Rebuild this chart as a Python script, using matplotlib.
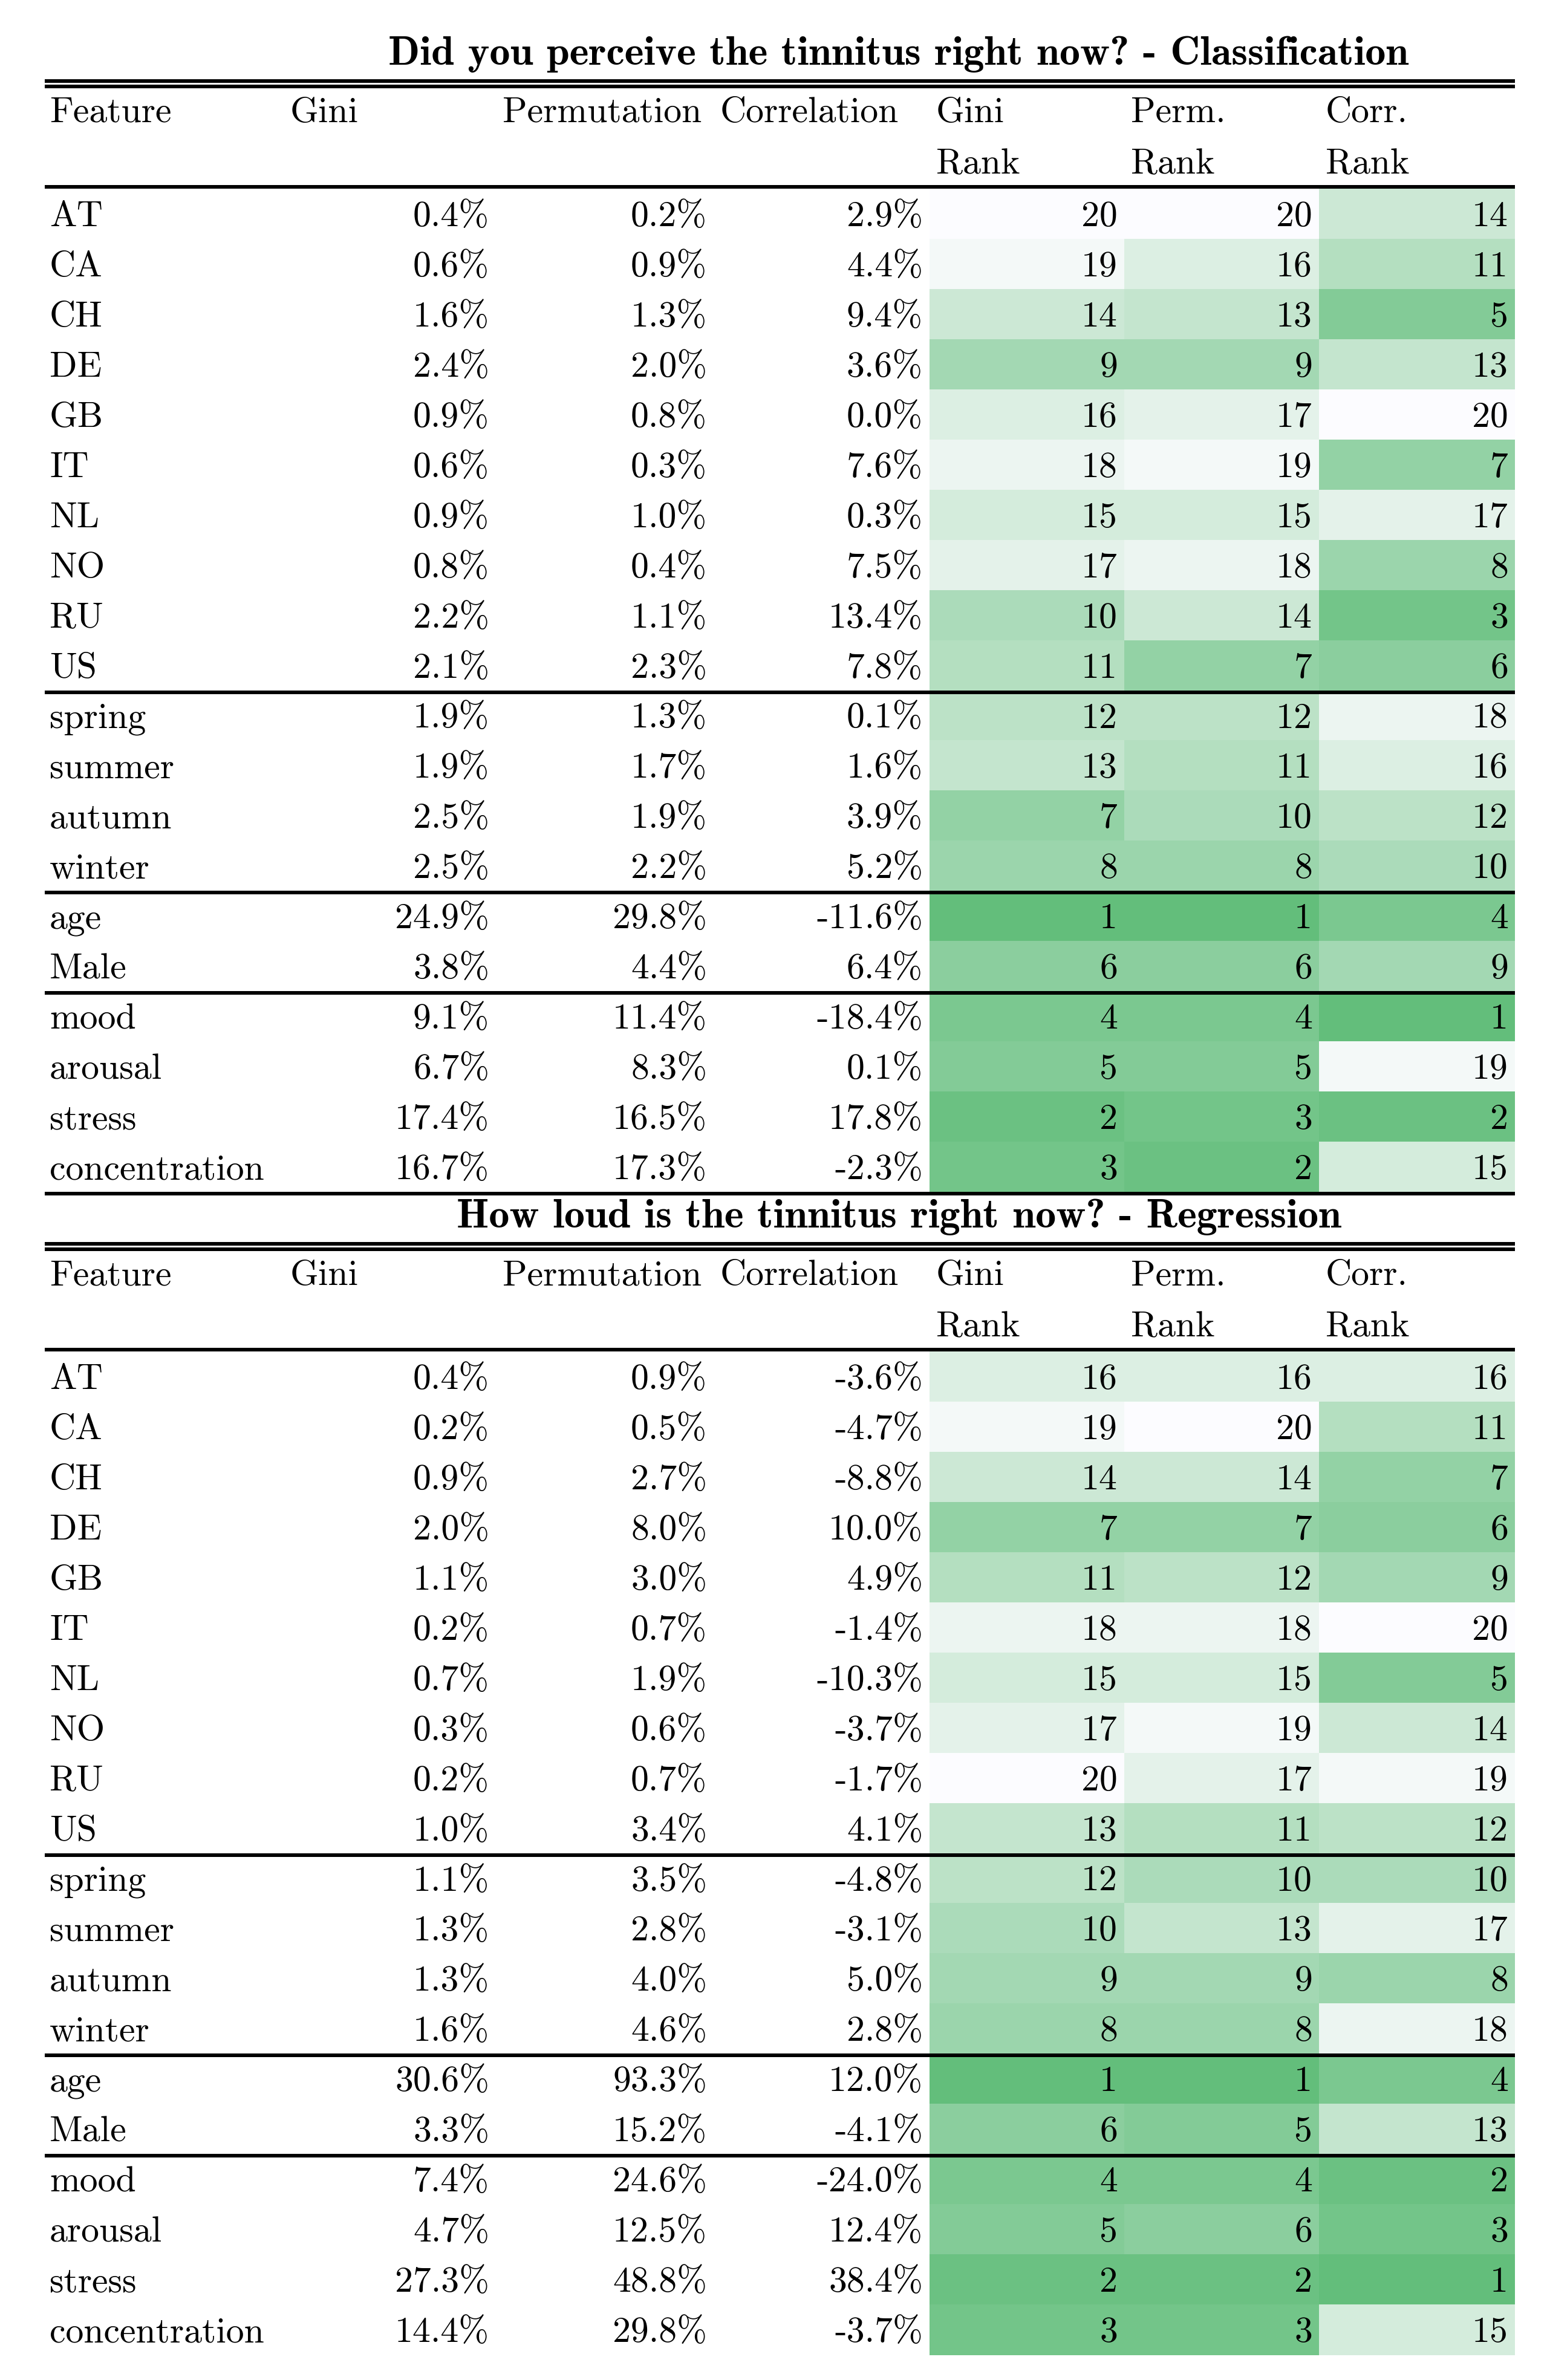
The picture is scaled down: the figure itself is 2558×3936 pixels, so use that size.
import matplotlib
matplotlib.use("Agg")
import matplotlib.pyplot as plt
from matplotlib.patches import Rectangle

features = ["AT", "CA", "CH", "DE", "GB", "IT", "NL", "NO", "RU", "US",
            "spring", "summer", "autumn", "winter", "age", "Male",
            "mood", "arousal", "stress", "concentration"]

title1 = "Did you perceive the tinnitus right now? - Classification"
gini1 = [0.4, 0.6, 1.6, 2.4, 0.9, 0.6, 0.9, 0.8, 2.2, 2.1, 1.9, 1.9, 2.5, 2.5, 24.9, 3.8, 9.1, 6.7, 17.4, 16.7]
perm1 = [0.2, 0.9, 1.3, 2.0, 0.8, 0.3, 1.0, 0.4, 1.1, 2.3, 1.3, 1.7, 1.9, 2.2, 29.8, 4.4, 11.4, 8.3, 16.5, 17.3]
corr1 = [2.9, 4.4, 9.4, 3.6, 0.0, 7.6, 0.3, 7.5, 13.4, 7.8, 0.1, 1.6, 3.9, 5.2, -11.6, 6.4, -18.4, 0.1, 17.8, -2.3]
gini_rank1 = [20, 19, 14, 9, 16, 18, 15, 17, 10, 11, 12, 13, 7, 8, 1, 6, 4, 5, 2, 3]
perm_rank1 = [20, 16, 13, 9, 17, 19, 15, 18, 14, 7, 12, 11, 10, 8, 1, 6, 4, 5, 3, 2]
corr_rank1 = [14, 11, 5, 13, 20, 7, 17, 8, 3, 6, 18, 16, 12, 10, 4, 9, 1, 19, 2, 15]

title2 = "How loud is the tinnitus right now? - Regression"
gini2 = [0.4, 0.2, 0.9, 2.0, 1.1, 0.2, 0.7, 0.3, 0.2, 1.0, 1.1, 1.3, 1.3, 1.6, 30.6, 3.3, 7.4, 4.7, 27.3, 14.4]
perm2 = [0.9, 0.5, 2.7, 8.0, 3.0, 0.7, 1.9, 0.6, 0.7, 3.4, 3.5, 2.8, 4.0, 4.6, 93.3, 15.2, 24.6, 12.5, 48.8, 29.8]
corr2 = [-3.6, -4.7, -8.8, 10.0, 4.9, -1.4, -10.3, -3.7, -1.7, 4.1, -4.8, -3.1, 5.0, 2.8, 12.0, -4.1, -24.0, 12.4, 38.4, -3.7]
gini_rank2 = [16, 19, 14, 7, 11, 18, 15, 17, 20, 13, 12, 10, 9, 8, 1, 6, 4, 5, 2, 3]
perm_rank2 = [16, 20, 14, 7, 12, 18, 15, 19, 17, 11, 10, 13, 9, 8, 1, 5, 4, 6, 2, 3]
corr_rank2 = [16, 11, 7, 6, 9, 20, 5, 14, 19, 12, 10, 17, 8, 18, 4, 13, 2, 3, 1, 15]

header_top = ["Feature", "Gini", "Permutation", "Correlation", "Gini", "Perm.", "Corr."]
header_bottom = ["", "", "", "", "Rank", "Rank", "Rank"]
group_breaks = [10, 14, 16]

# ---- layout (pixels) ----
W, H = 2558, 3936
fig = plt.figure(figsize=(W / 100, H / 100), dpi=100)
ax = fig.add_axes([0, 0, 1, 1])
ax.set_xlim(0, W)
ax.set_ylim(H, 0)
ax.axis("off")

FS = 43
TFS = 49
FONT = "cmr10"
BFONT = "cmb10"
x_left, x_right = 73.5, 2505
col_edges = [73.5, 469, 820, 1180, 1537, 1859, 2181, 2505]
pad = 11
pitch = 82.95
rule_w = 6

c_hi = (0x63 / 255, 0xBE / 255, 0x7B / 255)
c_lo = (0xFC / 255, 0xFC / 255, 0xFF / 255)


def rank_color(r, rmin, rmax):
    t = (r - rmin) / (rmax - rmin)
    return tuple(c_hi[k] + t * (c_lo[k] - c_hi[k]) for k in range(3))


def hrule(y):
    ax.add_patch(Rectangle((x_left, y), x_right - x_left, rule_w,
                           facecolor="black", edgecolor="none", zorder=3))


def draw_table(y0, title, gini, perm, corr, ranks, bottom_rule):
    ax.text(1486, y0 - 24, title, fontfamily=BFONT, fontsize=TFS,
            ha="center", va="baseline")
    hrule(y0)
    hrule(y0 + 9)
    for j, (h1, h2) in enumerate(zip(header_top, header_bottom)):
        xl = col_edges[j] + (8.5 if j == 0 else pad)
        ax.text(xl, y0 + 71, h1, fontfamily=FONT, fontsize=FS, ha="left", va="baseline")
        if h2:
            ax.text(xl, y0 + 156, h2, fontfamily=FONT, fontsize=FS, ha="left", va="baseline")
    hrule(y0 + 175)
    top = y0 + 181
    for i, feat in enumerate(features):
        yt = top + i * pitch
        yb = yt + 62
        ax.text(col_edges[0] + 8.5, yb, feat, fontfamily=FONT, fontsize=FS,
                ha="left", va="baseline")
        for j, vals in enumerate([gini, perm, corr]):
            ax.text(col_edges[j + 2] - pad, yb, f"{vals[i]:.1f}%", fontfamily=FONT,
                    fontsize=FS, ha="right", va="baseline")
        for j, rk in enumerate(ranks):
            xl, xr = col_edges[4 + j], col_edges[5 + j]
            ax.add_patch(Rectangle((xl, yt), xr - xl, pitch + 0.6,
                                   facecolor=rank_color(rk[i], min(rk), max(rk)),
                                   edgecolor="none", zorder=1))
            ax.text(xr - pad, yb, f"{rk[i]}", fontfamily=FONT, fontsize=FS,
                    ha="right", va="baseline", zorder=4)
    for b in group_breaks:
        hrule(top + b * pitch)
    if bottom_rule:
        hrule(top + len(features) * pitch)


draw_table(131, title1, gini1, perm1, corr1, [gini_rank1, perm_rank1, corr_rank1], True)
draw_table(2054, title2, gini2, perm2, corr2, [gini_rank2, perm_rank2, corr_rank2], False)

fig.savefig("out.png", dpi=100, facecolor="white")
